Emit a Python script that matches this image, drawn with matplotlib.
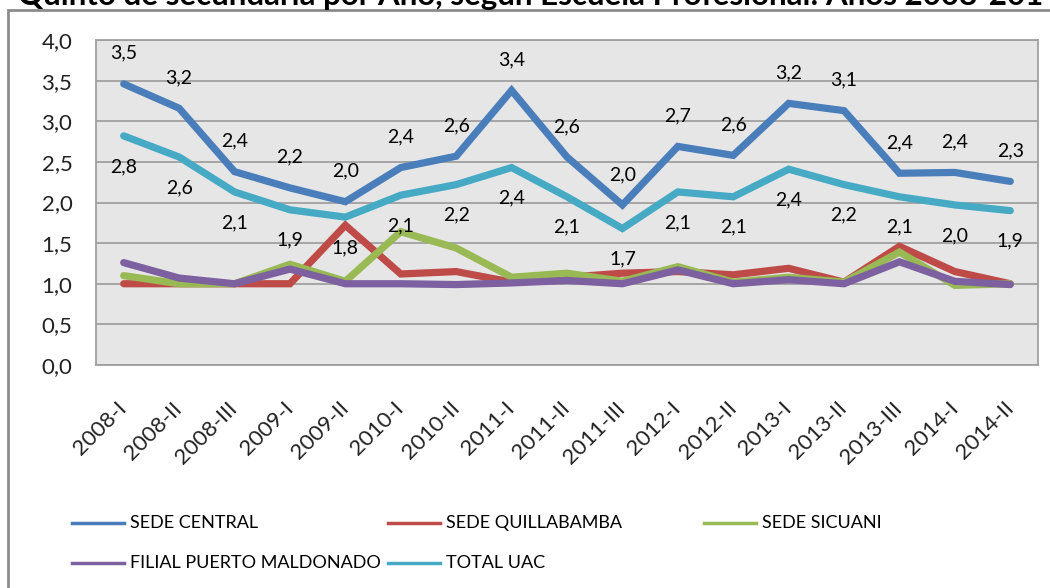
import matplotlib
matplotlib.use("Agg")
import matplotlib.pyplot as plt
from matplotlib.lines import Line2D
from matplotlib.patches import Rectangle

plt.rcParams['font.family'] = ['Lato', 'DejaVu Sans']

# ---------------- data ----------------
periods = ["2008-I", "2008-II", "2008-III", "2009-I", "2009-II", "2010-I", "2010-II",
           "2011-I", "2011-II", "2011-III", "2012-I", "2012-II", "2013-I", "2013-II",
           "2013-III", "2014-I", "2014-II"]

sede_central = [3.46, 3.16, 2.38, 2.18, 2.01, 2.43, 2.57, 3.38, 2.56, 1.97, 2.69, 2.58,
                3.22, 3.13, 2.36, 2.37, 2.26]
sede_quillabamba = [1.00, 1.00, 1.00, 1.00, 1.72, 1.12, 1.15, 1.02, 1.08, 1.13, 1.15, 1.11,
                    1.19, 1.02, 1.46, 1.15, 1.00]
sede_sicuani = [1.10, 1.00, 1.00, 1.24, 1.03, 1.64, 1.44, 1.08, 1.13, 1.03, 1.21, 1.02,
                1.08, 1.02, 1.39, 0.98, 1.00]
filial_pto_maldonado = [1.26, 1.07, 1.00, 1.18, 1.00, 1.00, 0.99, 1.01, 1.04, 1.00, 1.17, 1.00,
                        1.05, 1.00, 1.27, 1.03, 0.99]
total_uac = [2.82, 2.56, 2.13, 1.91, 1.82, 2.09, 2.22, 2.43, 2.07, 1.68, 2.13, 2.07,
             2.41, 2.22, 2.07, 1.97, 1.90]

series_names = ["SEDE CENTRAL", "SEDE QUILLABAMBA", "SEDE SICUANI",
                "FILIAL PUERTO MALDONADO", "TOTAL UAC"]
series_values = [sede_central, sede_quillabamba, sede_sicuani, filial_pto_maldonado, total_uac]
series_colors = ["#4A7EBB", "#BE4B48", "#98B954", "#7D60A0", "#46AAC5"]

y_ticks = [0.0, 0.5, 1.0, 1.5, 2.0, 2.5, 3.0, 3.5, 4.0]
title = "Quinto de secundaria por Año, según Escuela Profesional: Años 2008-2014"

# ---------------- figure ----------------
W, H = 1050, 588
fig = plt.figure(figsize=(W / 100, H / 100), dpi=100)

def fx(px):
    return px / W

def fy(py):
    return 1 - py / H

# outer chart frame (extends beyond image to right/bottom)
fig.patches.append(Rectangle((fx(8), fy(700)), fx(1100), fy(10) - fy(700),
                             transform=fig.transFigure, fill=False,
                             edgecolor="#8c8c8c", lw=2.0))

# cut-off title
fig.text(fx(18), fy(5), title, ha="left", va="baseline", fontsize=22.5,
         fontweight="bold", color="black")

ax = fig.add_axes([fx(96), fy(365), fx(1038) - fx(96), fy(40) - fy(365)])
ax.set_facecolor("#e6e6e6")
x = list(range(len(periods)))

for vals, col in zip(series_values, series_colors):
    ax.plot(x, vals, color=col, lw=5.2, solid_joinstyle="miter", solid_capstyle="round",
            zorder=3)

def fmt(v):
    return f"{v:.1f}".replace(".", ",")

for xi, v in zip(x, sede_central):
    ax.annotate(fmt(v), (xi, v), xytext=(0, 22), textcoords="offset points",
                ha="center", va="center", fontsize=14, color="black", zorder=5)
for xi, v in zip(x, total_uac):
    ax.annotate(fmt(v), (xi, v), xytext=(0, -22), textcoords="offset points",
                ha="center", va="center", fontsize=14, color="black", zorder=5)

ax.set_xlim(-0.5, len(periods) - 0.5)
ax.set_ylim(0, 4.0)
ax.set_yticks(y_ticks)
ax.set_yticklabels([fmt(t) for t in y_ticks], fontsize=16, color="#222222")
ax.set_xticks(x)
ax.set_xticklabels(periods, rotation=45, ha="right", va="center", rotation_mode="anchor",
                   fontsize=16, color="#222222")
ax.tick_params(axis="y", length=0, pad=17)
ax.tick_params(axis="x", length=0, pad=29)
ax.grid(axis="y", color="#a0a0a0", lw=1.3, zorder=1)
ax.set_axisbelow(True)
for sp in ax.spines.values():
    sp.set_color("#a0a0a0")
    sp.set_linewidth(1.3)

# legend (manual layout in pixels)
legend_pos = [(72, 523), (388, 523), (704, 523), (72, 563), (388, 563)]
for (px, py), name, col in zip(legend_pos, series_names, series_colors):
    fig.lines.append(Line2D([fx(px), fx(px + 52)], [fy(py), fy(py)],
                            transform=fig.transFigure, color=col, lw=2.5))
    fig.text(fx(px + 58), fy(py), name, ha="left", va="center", fontsize=13,
             color="black")

fig.savefig("out.png", dpi=100)
